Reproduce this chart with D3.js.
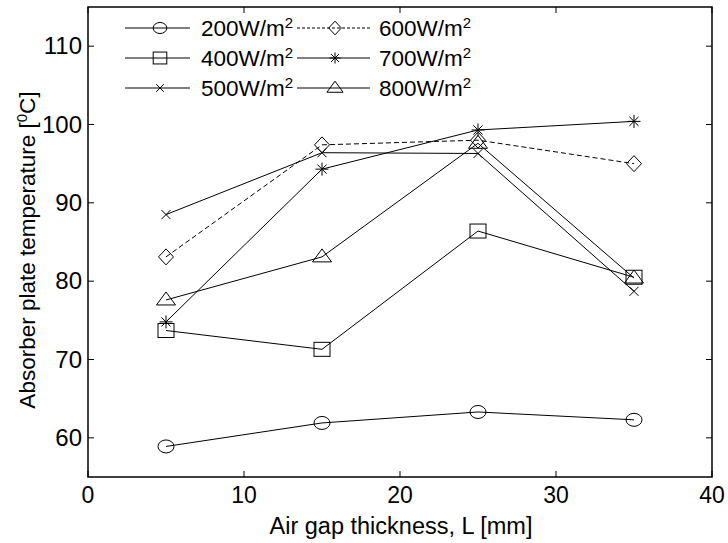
<!DOCTYPE html>
<html><head><meta charset="utf-8">
<script src="https://cdn.jsdelivr.net/npm/d3@7/dist/d3.min.js"></script>
<style>body{margin:0;background:#fff}svg{display:block}text{font-family:"Liberation Sans",Arial,sans-serif;fill:#000}</style>
</head><body><svg id="c" width="728" height="543"></svg>
<script>
const gaps = [5, 15, 25, 35];
const labels = ["200", "400", "500", "600", "700", "800"];
const markers = ["circle", "square", "x", "diamond", "star", "triangle"];
const dashed = [false, false, false, true, false, false];
const s200 = [58.9, 61.9, 63.3, 62.3];
const s400 = [73.7, 71.3, 86.4, 80.5];
const s500 = [88.5, 96.4, 96.3, 78.7];
const s600 = [83.1, 97.4, 98.0, 95.0];
const s700 = [74.8, 94.3, 99.3, 100.4];
const s800 = [77.6, 83.1, 97.6, 80.4];
const seriesVals = [s200, s400, s500, s600, s700, s800];
const xTicks = [0, 10, 20, 30, 40];
const yTicks = [60, 70, 80, 90, 100, 110];

const L = 88, R = 712, T = 7, B = 477;
const x = d3.scaleLinear().domain([0, 40]).range([L, R]);
const y = d3.scaleLinear().domain([55, 115]).range([B, T]);
const svg = d3.select("#c");

function drawMarker(g, type, cx, cy, big) {
  const k = big ? 1 : 0.85;
  const st = {stroke: "#000", "stroke-width": 1, fill: "none"};
  let el;
  if (type === "circle") el = g.append("ellipse").attr("cx", cx).attr("cy", cy).attr("rx", 8 * k).attr("ry", 6.5 * k);
  else if (type === "square") el = g.append("rect").attr("x", cx - 8 * k).attr("y", cy - 7 * k).attr("width", 16 * k).attr("height", 14 * k);
  else if (type === "diamond") el = g.append("path").attr("d", `M${cx},${cy - 8 * k}L${cx + 7.5 * k},${cy}L${cx},${cy + 8 * k}L${cx - 7.5 * k},${cy}Z`);
  else if (type === "triangle") el = g.append("path").attr("d", `M${cx},${cy - 8 * k}L${cx + 9.5 * k},${cy + 5 * k}L${cx - 9.5 * k},${cy + 5 * k}Z`);
  else if (type === "x") { const a = 4.5 * k; el = g.append("path").attr("d", `M${cx - a},${cy - a}L${cx + a},${cy + a}M${cx - a},${cy + a}L${cx + a},${cy - a}`); }
  else if (type === "star") { const a = 6.5 * k, b = 4.6 * k; el = g.append("path").attr("d", `M${cx},${cy - a}L${cx},${cy + a}M${cx - a},${cy}L${cx + a},${cy}M${cx - b},${cy - b}L${cx + b},${cy + b}M${cx - b},${cy + b}L${cx + b},${cy - b}`); }
  for (const kk in st) el.attr(kk, st[kk]);
}

// axes box with inward ticks
const ax = svg.append("g");
ax.append("rect").attr("x", L).attr("y", T).attr("width", R - L).attr("height", B - T).attr("fill", "none").attr("stroke", "#000").attr("stroke-width", 1.5);
const tl = 6;
xTicks.forEach(t => {
  ax.append("line").attr("x1", x(t)).attr("x2", x(t)).attr("y1", B).attr("y2", B - tl).attr("stroke", "#000");
  ax.append("line").attr("x1", x(t)).attr("x2", x(t)).attr("y1", T).attr("y2", T + tl).attr("stroke", "#000");
  ax.append("text").attr("x", x(t)).attr("y", 503).attr("text-anchor", "middle").attr("font-size", 23).text(t);
});
yTicks.forEach(t => {
  ax.append("line").attr("x1", L).attr("x2", L + tl).attr("y1", y(t)).attr("y2", y(t)).attr("stroke", "#000");
  ax.append("line").attr("x1", R).attr("x2", R - tl).attr("y1", y(t)).attr("y2", y(t)).attr("stroke", "#000");
  ax.append("text").attr("x", 82).attr("y", y(t) + 8).attr("text-anchor", "end").attr("font-size", 24).text(t);
});
svg.append("text").attr("x", (L + R) / 2 + 1).attr("y", 534).attr("text-anchor", "middle").attr("font-size", 23.5).text("Air gap thickness, L [mm]");
const yt = svg.append("text").attr("transform", "translate(35,250) rotate(-90)").attr("text-anchor", "middle").attr("font-size", 22.5);
yt.append("tspan").text("Absorber plate temperature [");
yt.append("tspan").attr("baseline-shift", "super").attr("font-size", 15).text("0");
yt.append("tspan").text("C]");

// series
const line = d3.line().x((d, i) => x(gaps[i])).y(d => y(d));
seriesVals.forEach((vals, si) => {
  const g = svg.append("g");
  g.append("path").attr("d", line(vals)).attr("fill", "none").attr("stroke", "#000").attr("stroke-width", 1)
    .attr("stroke-dasharray", dashed[si] ? "5,3" : null);
  vals.forEach((v, i) => drawMarker(g, markers[si], x(gaps[i]), y(v), true));
});

// legend
const legCols = [{x1: 125, x2: 190, mx: 160, tx: 201}, {x1: 297, x2: 370, mx: 335, tx: 379}];
const legRows = [28, 58, 88];
labels.forEach((lab, i) => {
  const c = legCols[Math.floor(i / 3)], ry = legRows[i % 3];
  const g = svg.append("g");
  g.append("line").attr("x1", c.x1).attr("x2", c.x2).attr("y1", ry).attr("y2", ry).attr("stroke", "#000").attr("stroke-width", 1)
    .attr("stroke-dasharray", dashed[i] ? "3,2" : null);
  drawMarker(g, markers[i], c.mx, ry, false);
  const t = g.append("text").attr("x", c.tx).attr("y", ry + 8).attr("font-size", 22.5);
  t.append("tspan").text(lab + "W/m");
  t.append("tspan").attr("baseline-shift", "super").attr("font-size", 15).text("2");
});
</script></body></html>
